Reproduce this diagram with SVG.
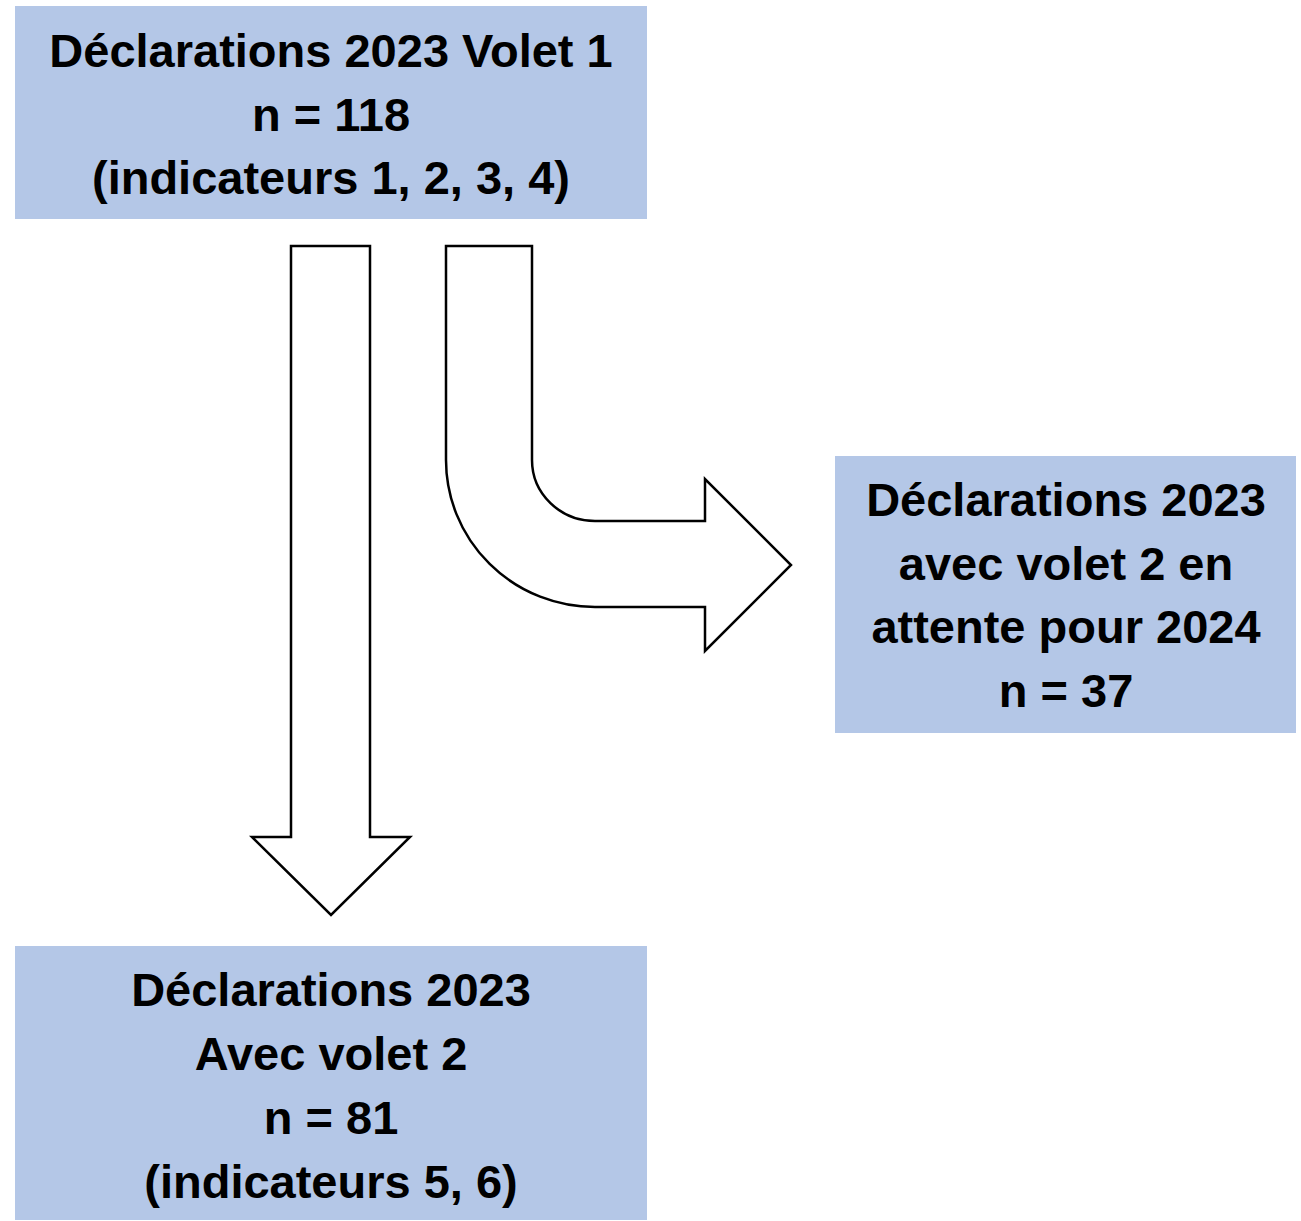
<svg xmlns="http://www.w3.org/2000/svg" width="1301" height="1221" viewBox="0 0 1301 1221">
<style>
.box{fill:#B4C7E7;}
.t{font-family:"Liberation Sans",Arial,sans-serif;font-weight:bold;font-size:47px;fill:#000;text-anchor:middle;}
.arr{fill:#fff;stroke:#000;stroke-width:2.5;stroke-linejoin:miter;}
</style>
<rect width="1301" height="1221" fill="#fff"/>
<g id="node-volet1">
<rect class="box" x="15" y="6" width="632" height="213"/>
<text class="t" x="331" y="67">Déclarations 2023 Volet 1</text>
<text class="t" x="331" y="131">n = 118</text>
<text class="t" x="331" y="194">(indicateurs 1, 2, 3, 4)</text>
</g>
<g id="node-attente">
<rect class="box" x="835" y="456" width="461" height="277"/>
<text class="t" x="1066" y="516">Déclarations 2023</text>
<text class="t" x="1066" y="580">avec volet 2 en</text>
<text class="t" x="1066" y="643">attente pour 2024</text>
<text class="t" x="1066" y="707">n = 37</text>
</g>
<g id="node-volet2">
<rect class="box" x="15" y="946" width="632" height="274"/>
<text class="t" x="331" y="1006">Déclarations 2023</text>
<text class="t" x="331" y="1070">Avec volet 2</text>
<text class="t" x="331" y="1134">n = 81</text>
<text class="t" x="331" y="1198">(indicateurs 5, 6)</text>
</g>
<g id="connectors">
<path class="arr" d="M291 246 H370 V837 H410 L331 915 L252 837 H291 Z"/>
<path class="arr" d="M446 246 H532 V460 A63 61 0 0 0 595 521 H705 V479 L791 565 L705 651 V607 H595 A149 147 0 0 1 446 460 Z"/>
</g>
</svg>
